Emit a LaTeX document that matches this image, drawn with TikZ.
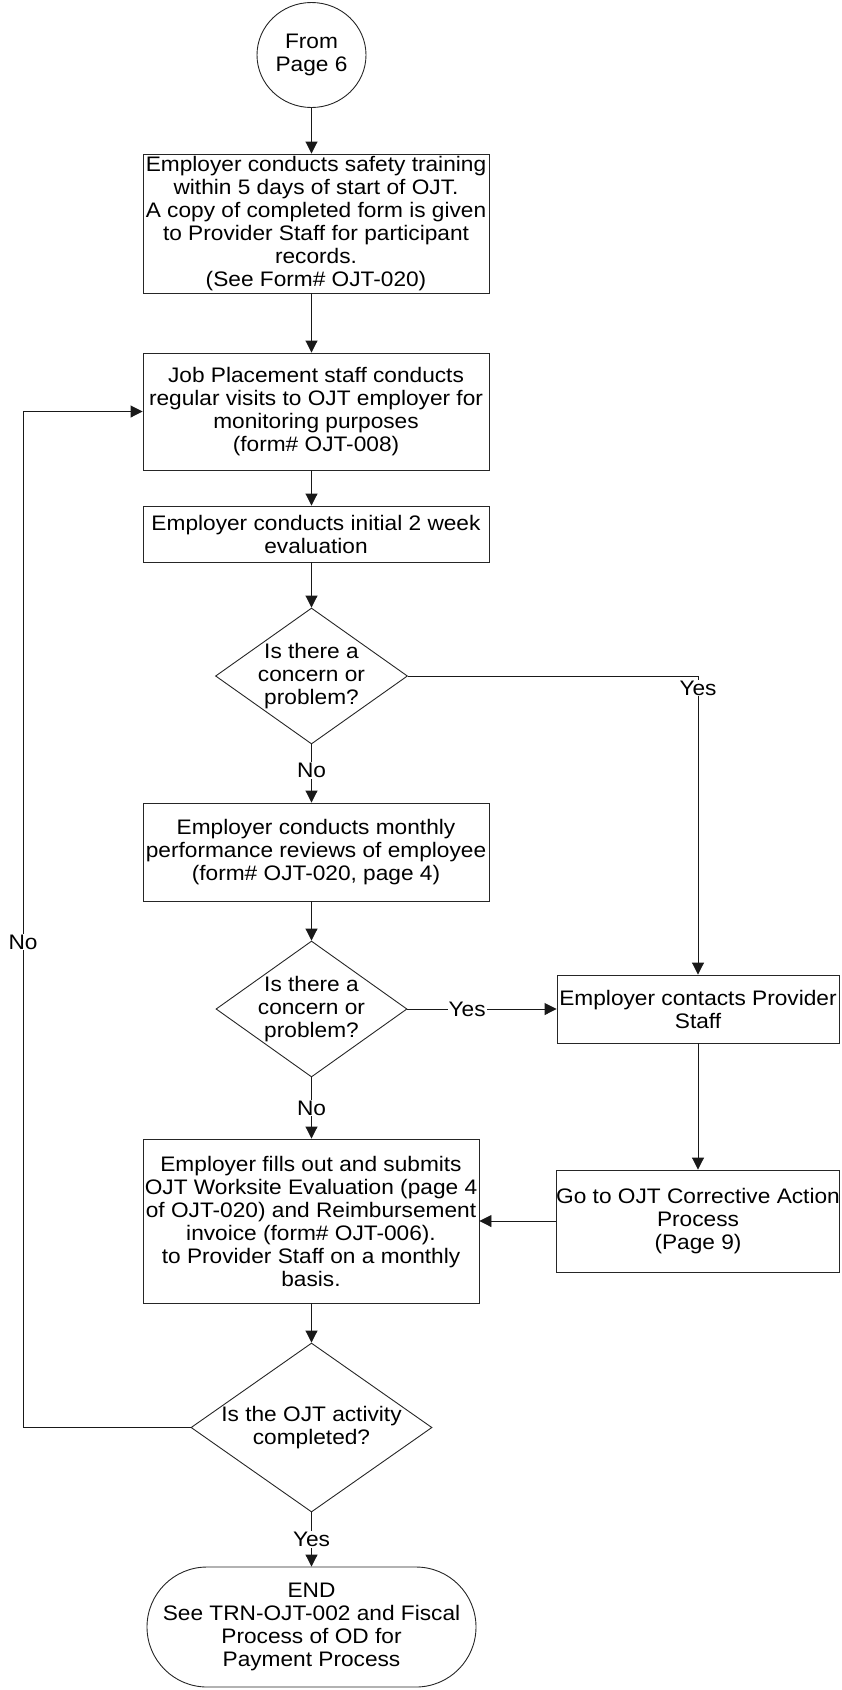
\documentclass[tikz,border=0pt]{standalone}
\usepackage{fontspec}
\setmainfont{Liberation Sans}[FakeStretch=1.08]
\usetikzlibrary{shapes.geometric,arrows.meta}
\newcommand\dgfont{\fontsize{21}{23}\selectfont}
\begin{document}
\begin{tikzpicture}[x=1pt,y=-1pt,
  every node/.style={font=\dgfont},
  box/.style={draw=black!85, line width=0.9pt, rectangle, inner sep=0pt, align=center},
  dia/.style={draw=black!85, line width=0.9pt, diamond, inner sep=0pt},
  txt/.style={align=center, inner sep=0pt},
  lbl/.style={fill=white, inner sep=1pt},
  arr/.style={draw=black!90, line width=0.9pt, -{Triangle[width=12pt,length=12pt]}},
  ln/.style={draw=black!90, line width=0.9pt}]
\useasboundingbox (0,0) rectangle (841,1690);
% nodes
\node[draw=black!85, line width=0.9pt, ellipse, inner sep=0pt, minimum width=109pt, minimum height=105pt, align=center] (start) at (311.5,55) {From\\Page 6};
\node[box, minimum width=346pt, minimum height=139pt] (b1) at (316,223.5) {Employer conducts safety training\\within 5 days of start of OJT.\\A copy of completed form is given\\to Provider Staff for participant\\records.\\(See Form\# OJT-020)};
\node[box, minimum width=346pt, minimum height=117pt] (b2) at (316,411.5) {Job Placement staff conducts\\regular visits to OJT employer for\\monitoring purposes\\(form\# OJT-008)};
\node[box, minimum width=346pt, minimum height=56pt] (b3) at (316,534) {Employer conducts initial 2 week\\evaluation};
\node[dia, minimum width=192pt, minimum height=136pt] (d1) at (311.5,676) {};
\node[txt] (d1t) at (d1) {Is there a\\concern or\\problem?};
\node[box, minimum width=346pt, minimum height=98pt] (b4) at (316,852) {Employer conducts monthly\\performance reviews of employee\\(form\# OJT-020, page 4)};
\node[dia, minimum width=191pt, minimum height=136pt] (d2) at (311.5,1009) {};
\node[txt] (d2t) at (d2) {Is there a\\concern or\\problem?};
\node[box, minimum width=336pt, minimum height=164pt] (b5) at (311,1221) {Employer fills out and submits\\OJT Worksite Evaluation (page 4\\of OJT-020) and Reimbursement\\invoice (form\# OJT-006).\\to Provider Staff on a monthly\\basis.};
\node[dia, minimum width=241pt, minimum height=169pt] (d3) at (311.5,1427.5) {};
\node[txt] (d3t) at (d3) {Is the OJT activity\\completed?};
\node[box, rounded corners=60pt, minimum width=329pt, minimum height=120pt] (end) at (311.5,1627) {END\\See TRN-OJT-002 and Fiscal\\Process of OD for\\Payment Process};
\node[box, minimum width=282pt, minimum height=68pt] (contact) at (698,1009) {Employer contacts Provider\\Staff};
\node[box, minimum width=282pt, minimum height=102pt] (corr) at (698,1221) {Go to OJT Corrective Action\\Process\\(Page 9)};
\coordinate (lp) at (23,1427.5);
% connectors
\draw[arr] (start) -- (start |- b1.north);
\draw[arr] (start |- b1.south) -- (start |- b2.north);
\draw[arr] (start |- b2.south) -- (start |- b3.north);
\draw[arr] (start |- b3.south) -- (d1.north);
\draw[arr] (d1.south) -- (d1.south |- b4.north) node[lbl, pos=0.45] {No};
\draw[arr] (d1.east) -| (contact.north);
\node[lbl] at (698,688) {Yes};
\draw[arr] (d1.south |- b4.south) -- (d2.north);
\draw[arr] (d2.east) -- (d2.east -| contact.west) node[lbl, pos=0.4] {Yes};
\draw[arr] (d2.south) -- (d2.south |- b5.north) node[lbl, pos=0.5] {No};
\draw[arr] (contact) -- (corr);
\draw[arr] (corr.west) -- (corr.west -| b5.east);
\draw[arr] (d2.south |- b5.south) -- (d3.north);
\draw[arr] (d3.south) -- (end.north) node[lbl, pos=0.5] {Yes};
\draw[arr] (d3.west) -- (lp) |- (b2.west);
\node[lbl] at (23,942) {No};
\end{tikzpicture}
\end{document}
